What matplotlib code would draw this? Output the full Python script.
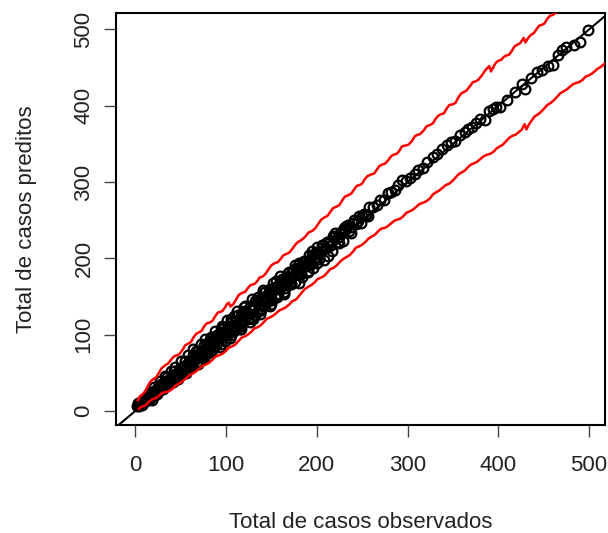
import matplotlib
matplotlib.use("Agg")
import matplotlib.pyplot as plt

# observed vs predicted totals (first group)
obs_a = [3, 5, 6, 8, 9, 11, 12, 14, 15, 17, 18, 20, 21, 23, 24, 26, 27, 29, 30, 32,
         33, 35, 36, 38, 39, 41, 42, 44, 45, 47, 48, 50, 51, 53, 54, 56, 57, 59, 60,
         61, 62, 64, 65, 66, 68, 69, 70, 72, 73, 74, 76, 77, 78, 80, 81, 82, 84, 85, 86,
         88, 89, 90, 92, 93, 94, 96, 97, 98, 100, 101, 103, 104, 105, 107, 108, 110, 111,
         113, 114, 116, 117, 119, 120, 122, 123, 125, 126, 128, 129,
         131, 132, 134, 135, 137, 138, 140, 141, 143, 145, 146, 148, 149, 151, 153, 154,
         156, 158, 159, 161, 163, 165, 166, 168, 170, 172, 174, 175, 177, 179, 181, 183,
         185, 187, 189, 191, 193, 195, 197, 199,
         201, 204, 207, 210, 213, 216, 219, 222, 225, 228, 231, 234, 237, 240, 243, 247,
         250, 254, 258, 262, 266, 270, 274, 278, 282, 286, 290, 294, 298,
         303, 308, 312, 317, 322, 328, 333, 338, 344, 348, 352, 358, 363, 367, 371, 376,
         380, 385, 390, 394, 398, 402, 410, 418, 426, 430, 436, 443, 448, 455, 460, 466,
         470, 475, 483, 490, 499]
pred_a = [10, 8, 12, 11, 14, 13, 17, 15, 20, 19, 22, 21, 26, 24, 29, 27, 31, 30, 35, 33,
          36, 34, 41, 39, 42, 40, 47, 45, 49, 46, 53, 51, 56, 52, 59, 57, 61, 60, 65,
          67, 60, 73, 66, 70, 64, 79, 73, 79, 72, 79, 87, 74, 84, 82, 90, 77, 88, 97, 87,
          95, 86, 100, 95, 99, 88, 104, 99, 110, 104, 99, 112, 109, 100, 118, 111, 117, 107,
          126, 116, 124, 111, 124, 131, 123, 130, 122, 136, 132, 122,
          136, 144, 130, 143, 139, 132, 150, 144, 156, 143, 153, 149, 160, 146, 159, 163,
          153, 162, 171, 162, 171, 161, 176, 170, 176, 167, 183, 178, 188, 179, 188, 180,
          190, 197, 190, 197, 191, 204, 201, 207,
          209, 206, 217, 214, 220, 217, 228, 227, 228, 236, 237, 244, 241, 247, 245, 255,
          255, 257, 267, 268, 270, 277, 276, 286, 287, 289, 296, 303, 302,
          306, 311, 316, 318, 327, 333, 337, 344, 348, 352, 354, 362, 366, 370, 372, 378,
          383, 382, 393, 396, 398, 399, 408, 418, 429, 422, 436, 444, 447, 452, 453, 466,
          473, 477, 480, 484, 499]

# observed vs predicted totals (second group)
obs_b = [2, 4, 7, 9, 10, 13, 16, 17, 19, 22,
         25, 26, 28, 31, 34, 35, 37, 40, 43, 46,
         49, 52, 55, 58, 63, 67, 71, 75, 79, 83,
         87, 91, 95, 99, 102, 106, 109, 112, 115, 118,
         121, 124, 127, 130, 133, 136, 139, 142, 144, 147,
         150, 152, 155, 157, 160, 162, 164, 167, 169, 171,
         173, 176, 178, 180, 182, 184, 186, 188, 190, 192,
         194, 196, 198, 200, 203, 205, 208, 211, 214, 217,
         220, 223, 226, 229, 232, 235, 238, 241, 245, 249,
         252, 256]
pred_b = [6, 7, 8, 15, 12, 18, 16, 24, 22, 21,
          31, 27, 36, 29, 38, 44, 36, 43, 53, 43,
          56, 48, 66, 60, 58, 79, 71, 69, 88, 97,
          84, 96, 108, 92, 110, 104, 124, 113, 107, 128,
          137, 120, 133, 121, 145, 139, 133, 156, 142, 156,
          140, 159, 170, 152, 162, 173, 156, 173, 182, 168,
          182, 169, 182, 194, 181, 175, 196, 191, 184, 204,
          194, 188, 206, 215, 199, 210, 198, 222, 216, 210,
          233, 221, 233, 223, 242, 236, 233, 250, 249, 246,
          258, 255]

# observed vs predicted totals (third group)
obs_c = [15, 18, 21, 24, 27, 30, 33, 36, 39, 42,
         44, 47, 50, 53, 56, 58, 61, 64, 66, 69,
         72, 74, 77, 80, 82, 85, 88, 90, 93, 96,
         98, 101, 104, 106, 109, 112, 115, 117, 120, 123,
         126, 129, 132, 135, 138, 141, 144, 148, 152, 156,
         160, 164, 168, 172, 176, 180, 185, 190, 195, 200,
         206, 212, 218, 224, 230]
pred_c = [23, 15, 31, 22, 39, 29, 46, 36, 53, 38,
          58, 42, 66, 55, 50, 73, 58, 81, 70, 62,
          88, 72, 95, 72, 94, 80, 105, 97, 84, 111,
          101, 119, 96, 120, 105, 131, 114, 107, 136, 129,
          117, 147, 126, 150, 127, 158, 146, 138, 168, 149,
          177, 153, 181, 167, 192, 168, 195, 182, 210, 194,
          218, 203, 229, 220, 240]

# upper prediction band
up_x = [3, 8, 14, 20, 26, 33, 40, 46, 52, 58, 64, 70, 76, 82, 88, 94, 99, 103, 105, 111, 118,
        124, 130, 135, 140, 147, 154, 160, 167, 174, 180, 187, 195, 202, 209, 215, 222,
        228, 235, 241, 247, 253, 260, 266, 272, 279, 285, 291, 298, 305, 311, 318, 325,
        331, 337, 343, 350, 356, 362, 369, 375, 382, 390, 392, 397, 403, 409, 415, 421,
        428, 430, 436, 442, 448, 454, 460, 466]
up_y = [14, 22, 33, 42, 50, 60, 68, 73, 80, 88, 96, 103, 111, 116, 124, 130, 136, 142, 137, 146, 155,
        161, 166, 171, 176, 186, 194, 199, 206, 214, 222, 228, 236, 246, 254, 261, 268,
        276, 283, 290, 296, 304, 310, 316, 323, 329, 336, 341, 348, 354, 362, 368, 375,
        383, 389, 396, 402, 411, 418, 426, 432, 440, 452, 445, 456, 460, 466, 472, 480,
        489, 483, 493, 500, 506, 514, 519, 524]
up_mid_x = [5, 11, 17, 23, 29, 36, 43, 49, 55, 61, 67, 73, 79, 85, 91, 96, 101, 108, 114,
            121, 127, 132, 137, 143, 150, 157, 163, 170, 177, 183, 191, 198, 205, 212, 218,
            225, 231, 238, 244, 250, 256, 263, 269, 275, 282, 288, 294, 301, 308, 314, 321,
            328, 334, 340, 346, 353, 359, 365, 372, 378, 386, 400, 406, 412, 418, 424, 433,
            439, 445, 451, 457]
up_mid_y = [19, 26, 39, 44, 56, 62, 72, 75, 86, 90, 101, 105, 115, 118, 129, 131, 140, 140, 152,
            156, 165, 167, 175, 179, 191, 195, 204, 208, 219, 224, 234, 239, 251, 256, 266,
            270, 281, 285, 295, 298, 308, 311, 321, 324, 334, 337, 347, 349, 360, 363, 373,
            377, 387, 390, 401, 404, 416, 420, 431, 434, 447, 459, 464, 467, 478, 482, 489,
            495, 505, 508, 518]

# lower prediction band
lo_x = [4, 8, 14, 20, 27, 34, 41, 48, 55, 63, 70, 78, 85, 92, 100, 107, 114, 121, 128, 135,
        142, 149, 156, 163, 170, 177, 184, 191, 198, 205, 212, 219, 226, 233, 240, 247,
        254, 261, 268, 275, 282, 289, 296, 303, 310, 317, 325, 332, 339, 346, 353, 360,
        367, 374, 381, 388, 395, 402, 409, 416, 423, 429, 431, 437, 444, 451, 458, 465,
        472, 479, 486, 493, 500, 507, 513, 518]
lo_y = [3, 6, 11, 16, 21, 25, 29, 36, 42, 49, 55, 61, 67, 73, 79, 85, 92, 98, 104, 110,
        117, 123, 129, 134, 140, 146, 156, 163, 169, 175, 182, 188, 196, 202, 209, 216,
        222, 229, 236, 240, 246, 251, 256, 262, 268, 273, 279, 287, 293, 298, 306, 313,
        320, 325, 331, 336, 340, 347, 354, 361, 366, 376, 369, 381, 389, 397, 404, 412,
        419, 425, 430, 434, 440, 446, 451, 456]
lo_mid_x = [6, 11, 17, 23, 30, 37, 44, 51, 59, 66, 74, 81, 88, 96, 103, 110, 117, 124, 131,
            138, 145, 152, 159, 166, 173, 180, 187, 194, 201, 208, 215, 222, 229, 236, 243,
            250, 257, 264, 271, 278, 285, 292, 299, 306, 313, 321, 328, 335, 342, 349, 356,
            363, 370, 377, 384, 391, 398, 405, 412, 419, 426, 434, 440, 447, 454, 461, 468,
            475, 482, 489, 496, 503, 510, 515]
lo_mid_y = [5, 7, 14, 17, 24, 26, 33, 38, 46, 51, 59, 63, 71, 75, 83, 87, 96, 100, 108,
            112, 121, 125, 132, 136, 144, 150, 160, 165, 173, 177, 186, 191, 199, 204, 214,
            218, 226, 231, 239, 242, 249, 252, 260, 264, 271, 275, 284, 289, 296, 301, 310,
            315, 323, 327, 334, 337, 344, 349, 358, 362, 369, 376, 386, 392, 401, 407, 416,
            421, 428, 431, 438, 442, 449, 453]

x_ticks = [0, 100, 200, 300, 400, 500]
y_ticks = [0, 100, 200, 300, 400, 500]


def merged(xs, ys, mx, my):
    pairs = sorted(zip(list(xs) + list(mx), list(ys) + list(my)))
    return [p[0] for p in pairs], [p[1] for p in pairs]


plt.rcParams['font.family'] = ['Liberation Sans', 'DejaVu Sans']

fig = plt.figure(figsize=(6.08, 5.33), dpi=100)
ax = fig.add_axes([116/608, 1-425/533, (605-116)/608, (425-13)/533])

pt_style = dict(linestyle='none', marker='o', markersize=7, markerfacecolor='none',
                markeredgecolor='black', markeredgewidth=1.6, zorder=3)
ax.plot(obs_a, pred_a, **pt_style)
ax.plot(obs_b, pred_b, **pt_style)
ax.plot(obs_c, pred_c, **pt_style)
ax.axline((0, 0), slope=1, color='black', lw=1.5, zorder=4)
ux, uy = merged(up_x, up_y, up_mid_x, up_mid_y)
lx, ly = merged(lo_x, lo_y, lo_mid_x, lo_mid_y)
ax.plot(ux, uy, color='#ff0000', lw=1.8, zorder=5)
ax.plot(lx, ly, color='#ff0000', lw=1.8, zorder=5)

ax.set_xlim(-21.2, 517.6)
ax.set_ylim(-18.3, 521.6)
ax.set_xticks(x_ticks)
ax.set_yticks(y_ticks)
ax.tick_params(axis='both', direction='out', length=8.5, width=1, color='#444444',
               labelsize=16, labelcolor='#222222')
ax.tick_params(axis='x', pad=13)
ax.tick_params(axis='y', pad=7)
for lab in ax.get_yticklabels():
    lab.set_rotation(90)
    lab.set_va('center')
for sp in ax.spines.values():
    sp.set_linewidth(1.5)
    sp.set_color('black')

ax.set_xlabel('Total de casos observados', fontsize=16, color='#222222', labelpad=26)
ax.set_ylabel('Total de casos preditos', fontsize=16, color='#222222', labelpad=26)

fig.savefig('out.png', dpi=100)
